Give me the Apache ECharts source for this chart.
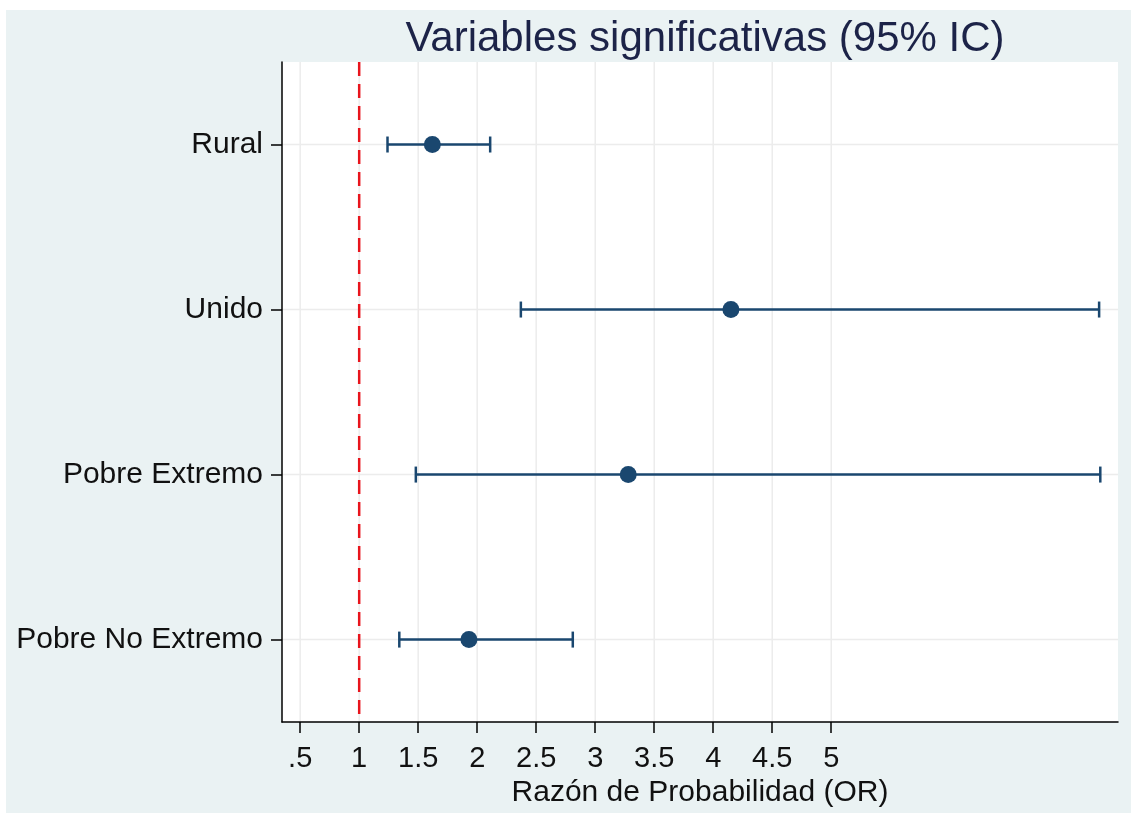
<!DOCTYPE html>
<html>
<head>
<meta charset="utf-8">
<script src="https://cdn.jsdelivr.net/npm/echarts@6/dist/echarts.min.js"></script>
<style>html,body{margin:0;padding:0;background:#fff}#c{width:1131px;height:813px}</style>
</head>
<body>
<div id="c"></div>
<script>
const categories = ['Rural', 'Unido', 'Pobre Extremo', 'Pobre No Extremo'];
const orValues = [1.62, 4.15, 3.28, 1.93];
const ciLower = [1.24, 2.37, 1.48, 1.34];
const ciUpper = [2.11, 7.27, 7.28, 2.81];
const tickValues = [0.5, 1, 1.5, 2, 2.5, 3, 3.5, 4, 4.5, 5];
const tickLabels = ['.5', '1', '1.5', '2', '2.5', '3', '3.5', '4', '4.5', '5'];
const refValue = 1;

const navy = '#1a476f';
const font = 'Liberation Sans, Arial, sans-serif';
const chart = echarts.init(document.getElementById('c'));

const ciData = categories.map((c, i) => [ciLower[i], ciUpper[i], i]);
const pointData = categories.map((c, i) => [orValues[i], c]);

chart.setOption({
  backgroundColor: '#ffffff',
  animation: false,
  graphic: [{
    type: 'rect', z: -10, silent: true,
    shape: { x: 6, y: 10, width: 1131, height: 813 },
    style: { fill: '#eaf2f3' }
  }],
  title: {
    text: 'Variables significativas (95% IC)',
    left: 700, textAlign: 'center', top: 13,
    textStyle: { fontFamily: font, fontSize: 42, fontWeight: 'normal', color: '#1c2348' }
  },
  grid: {
    left: 282, right: 13, top: 62, bottom: 87,
    show: true, backgroundColor: '#ffffff', borderWidth: 0
  },
  xAxis: {
    type: 'value', min: 0.346, max: 7.43,
    name: 'Razón de Probabilidad (OR)', nameLocation: 'middle', nameGap: 54,
    nameTextStyle: { fontFamily: font, fontSize: 30, color: '#111' },
    axisLine: { show: true, lineStyle: { color: '#000', width: 1.5 } },
    axisTick: { show: true, customValues: tickValues, length: 11, lineStyle: { color: '#000', width: 1.5 } },
    axisLabel: {
      customValues: tickValues, margin: 22,
      fontFamily: font, fontSize: 29, color: '#111',
      formatter: v => { const k = tickValues.findIndex(t => Math.abs(t - v) < 1e-6); return k >= 0 ? tickLabels[k] : ''; }
    },
    splitLine: { show: false }
  },
  yAxis: {
    type: 'category', data: categories, inverse: true, boundaryGap: true,
    axisLine: { show: true, lineStyle: { color: '#000', width: 1.5 } },
    axisTick: { show: true, alignWithLabel: true, length: 11, lineStyle: { color: '#000', width: 1.5 } },
    axisLabel: { margin: 19, fontFamily: font, fontSize: 30, color: '#111' },
    splitLine: { show: false }
  },
  series: [
    {
      type: 'custom', name: 'grid', silent: true, z: 0,
      data: [0],
      renderItem: (params, api) => {
        const cs = params.coordSys;
        const children = [];
        tickValues.forEach(t => {
          const p = api.coord([t, categories[0]]);
          children.push({ type: 'line', shape: { x1: p[0], y1: cs.y, x2: p[0], y2: cs.y + cs.height },
            style: { stroke: '#ececec', lineWidth: 1.5 } });
        });
        categories.forEach(c => {
          const p = api.coord([tickValues[0], c]);
          children.push({ type: 'line', shape: { x1: cs.x, y1: p[1], x2: cs.x + cs.width, y2: p[1] },
            style: { stroke: '#ececec', lineWidth: 1.5 } });
        });
        return { type: 'group', children };
      }
    },
    {
      type: 'custom', name: 'ref', silent: true, z: 1,
      data: [refValue],
      renderItem: (params, api) => {
        const cs = params.coordSys;
        const p = api.coord([api.value(0), categories[0]]);
        return { type: 'line', shape: { x1: p[0], y1: cs.y, x2: p[0], y2: cs.y + cs.height },
          style: { stroke: '#e8141c', lineWidth: 2.5, lineDash: [14, 8] } };
      }
    },
    {
      type: 'custom', name: 'CI', z: 2,
      data: ciData,
      encode: { x: [0, 1], y: 2 },
      renderItem: (params, api) => {
        const y = categories[api.value(2)];
        const a = api.coord([api.value(0), y]);
        const b = api.coord([api.value(1), y]);
        const h = 8;
        const st = { stroke: navy, lineWidth: 2.5 };
        return { type: 'group', children: [
          { type: 'line', shape: { x1: a[0], y1: a[1], x2: b[0], y2: b[1] }, style: st },
          { type: 'line', shape: { x1: a[0], y1: a[1] - h, x2: a[0], y2: a[1] + h }, style: st },
          { type: 'line', shape: { x1: b[0], y1: b[1] - h, x2: b[0], y2: b[1] + h }, style: st }
        ] };
      }
    },
    {
      type: 'scatter', name: 'OR', z: 3,
      data: pointData, symbol: 'circle', symbolSize: 17,
      itemStyle: { color: navy, opacity: 1 }
    }
  ]
});
</script>
</body>
</html>
